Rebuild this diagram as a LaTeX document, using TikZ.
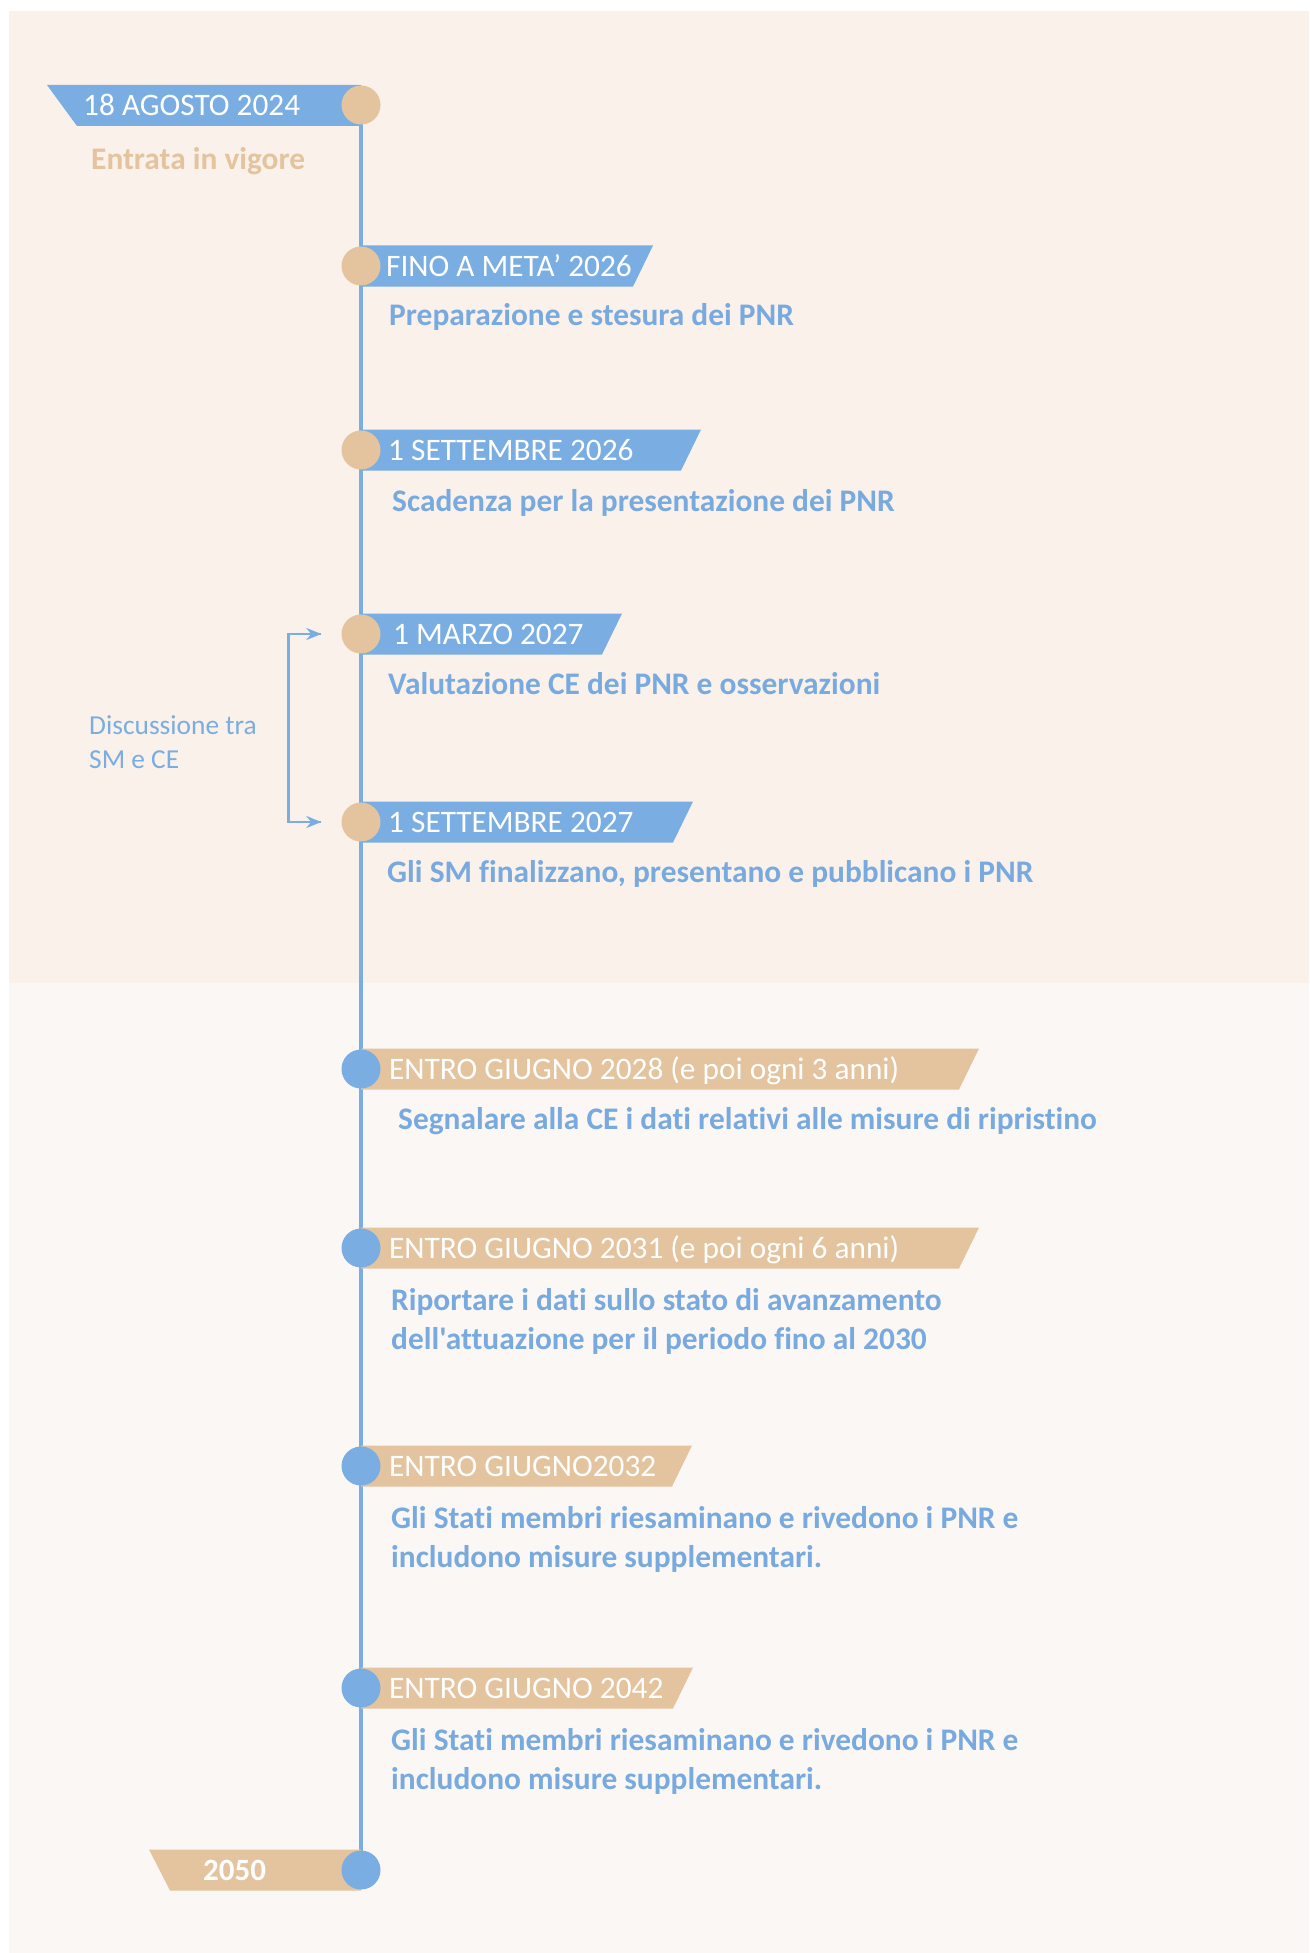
\documentclass[tikz,border=0pt]{standalone}
\usepackage{fontspec}
\setmainfont{Carlito}[Ligatures={TeXOff,NoCommon}]
\usetikzlibrary{arrows.meta,backgrounds}
\definecolor{tlblue}{RGB}{122,173,225}
\definecolor{txblue}{RGB}{120,170,223}
\definecolor{tltan}{RGB}{227,196,158}
\definecolor{bgup}{RGB}{249,241,234}
\definecolor{bglow}{RGB}{251,247,244}
\begin{document}
\begin{tikzpicture}[x=1pt,y=-1pt,
  dot/.style={circle,inner sep=0pt,minimum size=39pt},
  bantext/.style={anchor=base west,inner sep=0pt,text=white,font=\fontsize{31.3}{36}\selectfont},
  desc/.style={anchor=base west,inner sep=0pt,text=txblue,align=left,font=\bfseries\fontsize{31.4}{38.5}\selectfont},
  brk/.style={draw=tlblue,line width=2.5pt,-{Stealth[length=15pt,width=12pt]}}
]
\useasboundingbox (0,0) rectangle (1309,1953);
% banners
\fill[tlblue] (47,85) -- (361,85) -- (361,126) -- (77,126) -- cycle;
\fill[tlblue] (361,245.5) -- (653,245.5) -- (633,286.5) -- (361,286.5) -- cycle;
\fill[tlblue] (361,429.5) -- (701,429.5) -- (681,470.5) -- (361,470.5) -- cycle;
\fill[tlblue] (361,613.5) -- (622,613.5) -- (602,654.5) -- (361,654.5) -- cycle;
\fill[tlblue] (361,801.5) -- (693,801.5) -- (673,842.5) -- (361,842.5) -- cycle;
\fill[tltan] (361,1048.5) -- (979,1048.5) -- (959,1089.5) -- (361,1089.5) -- cycle;
\fill[tltan] (361,1227.5) -- (979,1227.5) -- (959,1268.5) -- (361,1268.5) -- cycle;
\fill[tltan] (361,1445.5) -- (692,1445.5) -- (672,1486.5) -- (361,1486.5) -- cycle;
\fill[tltan] (361,1667.5) -- (693,1667.5) -- (673,1708.5) -- (361,1708.5) -- cycle;
\fill[tltan] (149,1849.5) -- (361,1849.5) -- (361,1890.5) -- (170,1890.5) -- cycle;
% dots
\node[dot,fill=tltan] (c1) at (361,105) {};
\node[dot,fill=tltan] (c2) at (361,266) {};
\node[dot,fill=tltan] (c3) at (361,450) {};
\node[dot,fill=tltan] (c4) at (361,634) {};
\node[dot,fill=tltan] (c5) at (361,822) {};
\node[dot,fill=tlblue] (c6) at (361,1069) {};
\node[dot,fill=tlblue] (c7) at (361,1248) {};
\node[dot,fill=tlblue] (c8) at (361,1466) {};
\node[dot,fill=tlblue] (c9) at (361,1688) {};
\node[dot,fill=tlblue] (c10) at (361,1870) {};
\begin{scope}[on background layer]
\fill[bgup] (9,11) rectangle (1309,983);
\fill[bglow] (9,983) rectangle (1309,1953);
\draw[tlblue,line width=4.5pt] (c1.center) -- (c10.center);
\end{scope}
% banner texts
\node[bantext] (t1) at (83,115.5) {18 AGOSTO 2024};
\node[bantext] (t2) at (386,276.5) {FINO A META’ 2026};
\node[bantext] (t3) at (388,460.5) {1 SETTEMBRE 2026};
\node[bantext] (t4) at (393,644.5) {1 MARZO 2027};
\node[bantext] (t5) at (388,832.5) {1 SETTEMBRE 2027};
\node[bantext] (t6) at (389,1079.5) {ENTRO GIUGNO 2028 (e poi ogni 3 anni)};
\node[bantext] (t7) at (389,1258.5) {ENTRO GIUGNO 2031 (e poi ogni 6 anni)};
\node[bantext] (t8) at (389,1476.5) {ENTRO GIUGNO2032};
\node[bantext] (t9) at (389,1698.5) {ENTRO GIUGNO 2042};
\node[bantext,font=\bfseries\fontsize{31}{36}\selectfont] (t10) at (203,1880.5) {2050};
% descriptions
\node[desc,text=tltan] (d1) at (91,170) {Entrata in vigore};
\node[desc] (d2) at (389,325.5) {Preparazione e stesura dei PNR};
\node[desc] (d3) at (392,511.5) {Scadenza per la presentazione dei PNR};
\node[desc] (d4) at (388,694) {Valutazione CE dei PNR e osservazioni};
\node[desc] (d5) at (387,882) {Gli SM finalizzano, presentano e pubblicano i PNR};
\node[desc] (d6) at (398,1129.5) {Segnalare alla CE i dati relativi alle misure di ripristino};
\node[desc] (d7) at (391,1349) {Riportare i dati sullo stato di avanzamento\\dell'attuazione per il periodo fino al 2030};
\node[desc] (d8) at (391,1567) {Gli Stati membri riesaminano e rivedono i PNR e\\includono misure supplementari.};
\node[desc] (d9) at (391,1789) {Gli Stati membri riesaminano e rivedono i PNR e\\includono misure supplementari.};
% discussion
\node[anchor=base west,inner sep=0pt,text=tlblue,align=left,font=\fontsize{27.4}{34}\selectfont] (disc) at (89,768) {Discussione tra\\SM e CE};
\draw[brk] ([xshift=-20pt]c5.west) -- ++(-33,0) |- ([xshift=-20pt]c4.west);
\draw[brk] ([xshift=-20pt]c4.west) -- ++(-33,0) |- ([xshift=-20pt]c5.west);
\end{tikzpicture}
\end{document}
